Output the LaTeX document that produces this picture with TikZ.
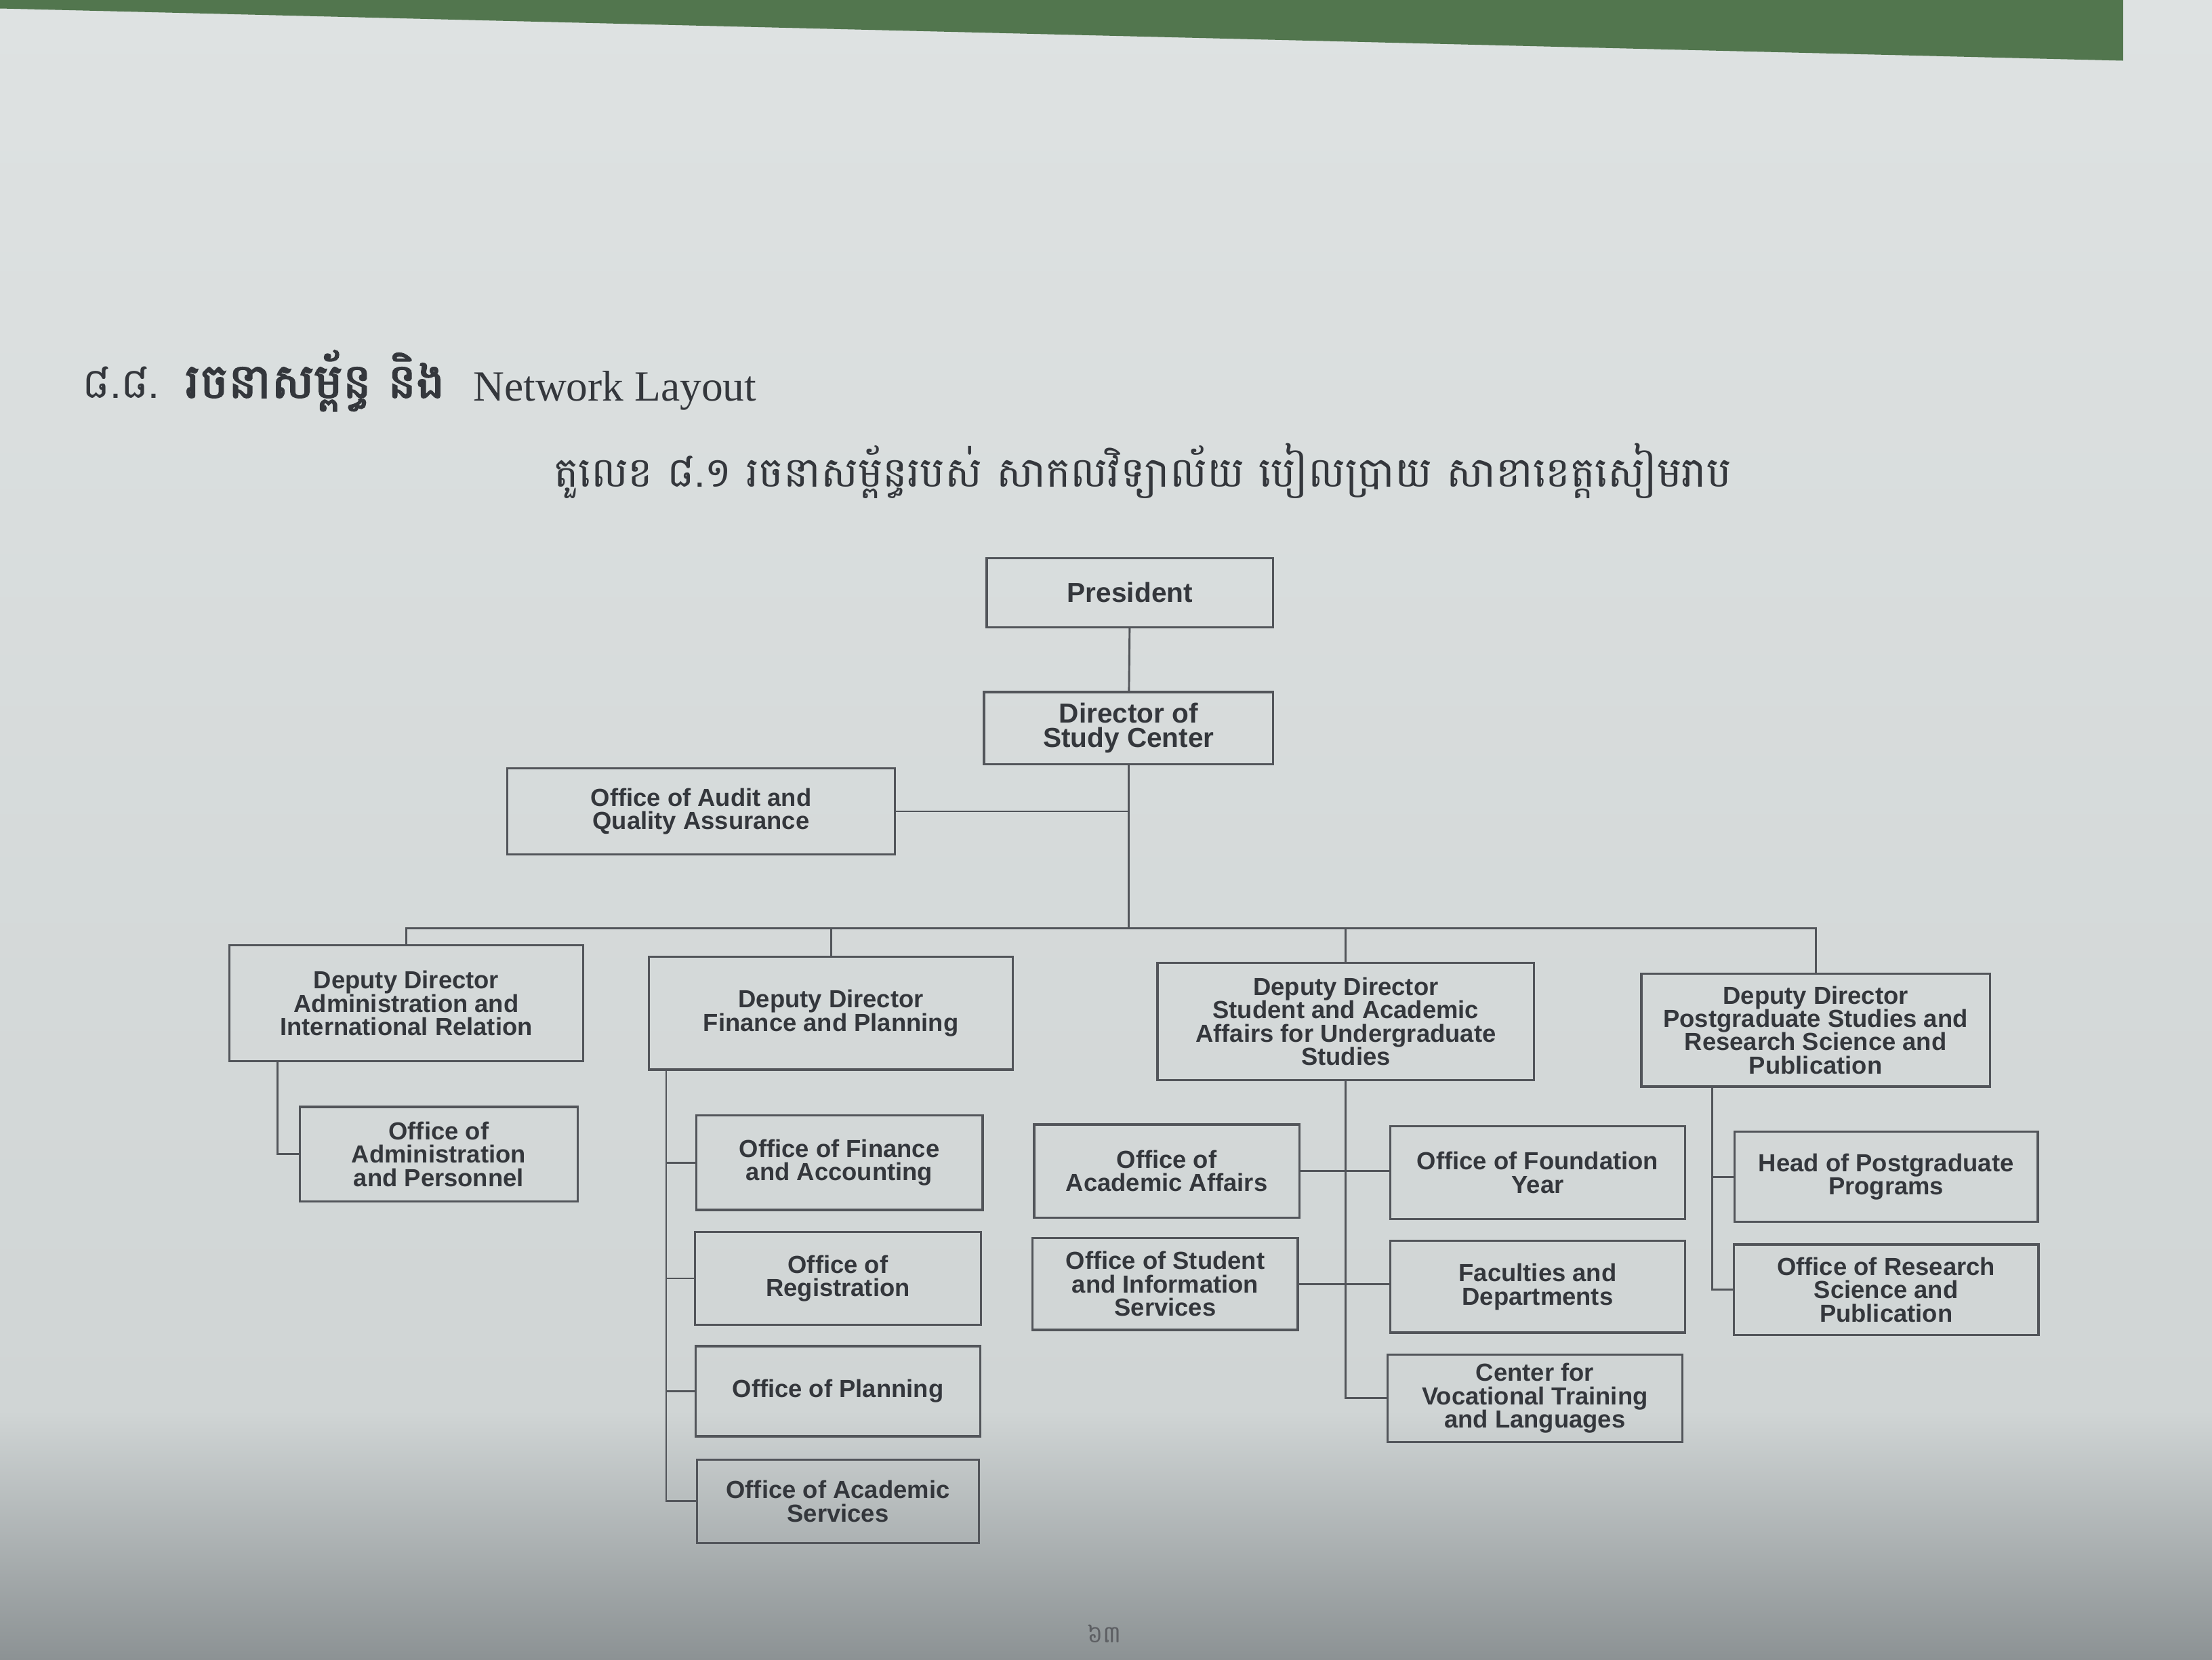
\documentclass[tikz,border=0pt]{standalone}
\usepackage{fontspec}
\setmainfont{Liberation Sans}
\newfontfamily\seriffont{Liberation Serif}
\newfontfamily\khmerfont[Script=Khmer]{Battambang}
\newfontfamily\khmerbold[Script=Khmer,FakeBold=2.5]{Battambang}

\definecolor{paperTop}{RGB}{222,226,226}
\definecolor{paperMid}{RGB}{208,213,213}
\definecolor{paperBot}{RGB}{140,146,148}
\definecolor{coverGreen}{RGB}{82,118,78}
\definecolor{ink}{RGB}{52,55,60}
\definecolor{rulegray}{RGB}{82,85,90}

\tikzset{
    orgbox/.style={draw=rulegray, line width=1.6pt, align=center, inner sep=2pt,
        text=ink, font=\bfseries\fontsize{17.5}{16.5}\selectfont},
    headbox/.style={orgbox, font=\bfseries\fontsize{19.5}{17}\selectfont},
    link/.style={draw=rulegray, line width=1.4pt}
}

\begin{document}
\begin{tikzpicture}[x=1pt, y=-1pt]
    \useasboundingbox (0,0) rectangle (1568,1176);

    % Fondo de la hoja fotografiada
    \shade[top color=paperTop, bottom color=paperMid] (0,0) rectangle (1568,1000);
    \shade[top color=paperMid, bottom color=paperBot] (0,1000) rectangle (1568,1176);
    \fill[coverGreen] (0,0) -- (1505,0) -- (1505,43) -- (0,6) -- cycle;

    % Titulos de la pagina
    \node[anchor=base west, text=ink, font=\khmerfont\fontsize{30}{32}\selectfont] (secnum) at (55,282) {៨.៨.};
    \node[anchor=base west, text=ink, font=\khmerbold\fontsize{34}{36}\selectfont] (sectitle) at (128,282) {រចនាសម្ព័ន្ធ និង};
    \node[anchor=base west, text=ink, font=\seriffont\fontsize{30.5}{32}\selectfont] (netlayout) at (332,284) {Network Layout};
    \node[text=ink, font=\khmerfont\fontsize{29.5}{32}\selectfont] (figtitle) at (810,334) {តួលេខ ៨.១ រចនាសម្ព័ន្ធរបស់ សាកលវិទ្យាល័យ បៀលប្រាយ សាខាខេត្តសៀមរាប};

    % Direccion
    \node[headbox, minimum width=203pt, minimum height=49pt] (pres) at (801,420) {President};
    \node[headbox, minimum width=205pt, minimum height=51pt] (dir) at (800,516) {Director of\\Study Center};
    \node[orgbox, minimum width=275pt, minimum height=61pt] (audit) at (497,575) {Office of Audit and\\Quality Assurance};

    % Subdirecciones
    \node[orgbox, minimum width=251pt, minimum height=82pt] (ddadm) at (288,711) {Deputy Director\\Administration and\\International Relation};
    \node[orgbox, minimum width=258pt, minimum height=80pt] (ddfin) at (589,718) {Deputy Director\\Finance and Planning};
    \node[orgbox, minimum width=267pt, minimum height=83pt] (ddstu) at (954,724) {Deputy Director\\Student and Academic\\Affairs for Undergraduate\\Studies};
    \node[orgbox, minimum width=247pt, minimum height=80pt] (ddpg) at (1287,730) {Deputy Director\\Postgraduate Studies and\\Research Science and\\Publication};

    % Oficinas
    \node[orgbox, minimum width=197pt, minimum height=67pt] (oadm) at (311,818) {Office of\\Administration\\and Personnel};

    \node[orgbox, minimum width=203pt, minimum height=67pt] (ofin) at (595,824) {Office of Finance\\and Accounting};
    \node[orgbox, minimum width=203pt, minimum height=66pt] (oreg) at (594,906) {Office of\\Registration};
    \node[orgbox, minimum width=202pt, minimum height=64pt] (oplan) at (594,986) {Office of Planning};
    \node[orgbox, minimum width=200pt, minimum height=59pt] (oacs) at (594,1064) {Office of Academic\\Services};

    \node[orgbox, minimum width=188pt, minimum height=66pt] (oaa) at (827,830) {Office of\\Academic Affairs};
    \node[orgbox, minimum width=188pt, minimum height=65pt] (osis) at (826,910) {Office of Student\\and Information\\Services};
    \node[orgbox, minimum width=209pt, minimum height=66pt] (ofy) at (1090,831) {Office of Foundation\\Year};
    \node[orgbox, minimum width=209pt, minimum height=65pt] (ofd) at (1090,912) {Faculties and\\Departments};
    \node[orgbox, minimum width=209pt, minimum height=62pt] (ocvt) at (1088,991) {Center for\\Vocational Training\\and Languages};

    \node[orgbox, minimum width=215pt, minimum height=64pt] (hpg) at (1337,834) {Head of Postgraduate\\Programs};
    \node[orgbox, minimum width=216pt, minimum height=64pt] (ors) at (1337,914) {Office of Research\\Science and\\Publication};

    % Numero de pagina
    \node[text=ink!80, font=\khmerfont\fontsize{17}{20}\selectfont] (pagenum) at (783,1158) {៦៣};

    % Conexiones
    \coordinate (bus) at (800,658);
    \draw[link] (pres) -- (dir);
    \draw[link] (dir.south) -- (bus);
    \draw[link] (audit.east) -- (audit.east -| bus);
    \foreach \dd in {ddadm,ddfin,ddstu,ddpg}
        \draw[link] (bus) -| (\dd.north);

    \draw[link] ([xshift=35pt]ddadm.south west) |- (oadm.west);
    \foreach \o in {ofin,oreg,oplan,oacs}
        \draw[link] ([xshift=13pt]ddfin.south west) |- (\o.west);
    \draw[link] (ddstu.south) |- (ocvt.west);
    \draw[link] (oaa.east) -- (oaa.east -| ofy.west);
    \draw[link] (osis.east) -- (osis.east -| ofd.west);
    \foreach \o in {hpg,ors}
        \draw[link] ([xshift=51pt]ddpg.south west) |- (\o.west);
\end{tikzpicture}
\end{document}
